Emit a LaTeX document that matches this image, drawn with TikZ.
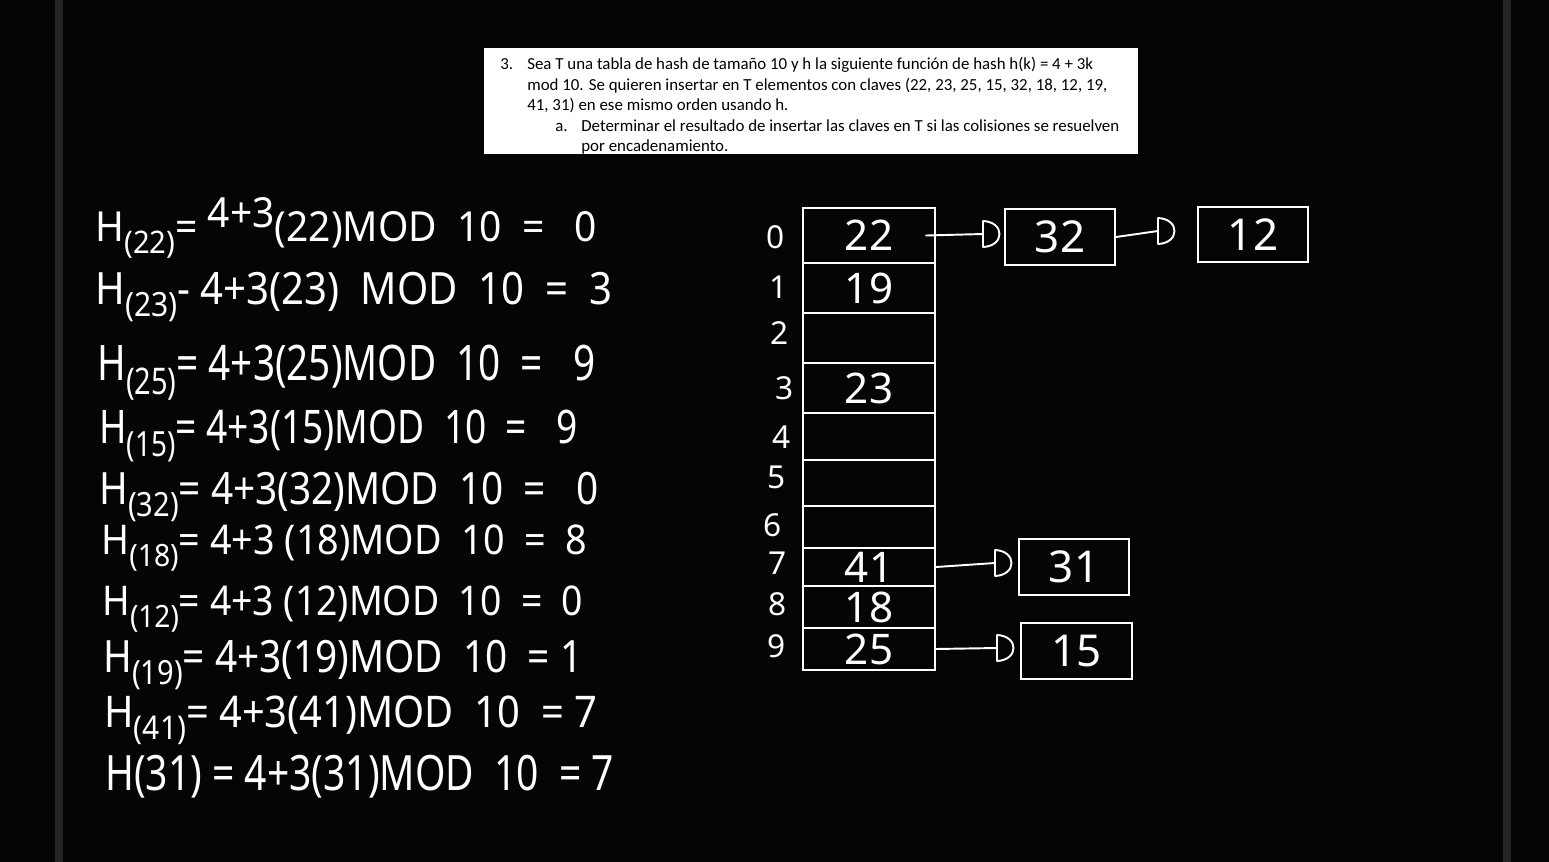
\documentclass[tikz,border=0pt]{standalone}
\usepackage{fontspec}
\usepackage{graphicx}
\setmainfont{Carlito}
\newfontfamily\hw{Noto Sans}
\newcommand\hsb[1]{\raisebox{-0.28em}{\fontsize{15pt}{18pt}\selectfont(#1)}}
\newcommand\handln[3]{\resizebox*{#1}{#2}{\hw\fontsize{20pt}{24pt}\selectfont #3}}
\definecolor{bgc}{HTML}{050505}
\definecolor{barc}{HTML}{252525}
\begin{document}
\begin{tikzpicture}[x=0.02cm,y=-0.02cm,
  txt/.style={inner sep=0pt, text=black, font=\fontsize{9.6pt}{11pt}\selectfont},
  hand/.style={inner sep=0pt, anchor=west, text=white},
  cell/.style={draw=white, line width=1.3pt, inner sep=0pt, minimum width=2.64cm, text=white, font=\hw\fontsize{24pt}{26pt}\selectfont},
  chainbox/.style={draw=white, line width=1.3pt, inner sep=0pt, minimum width=2.2cm, minimum height=1.12cm, text=white, font=\hw\fontsize{25pt}{27pt}\selectfont},
  idx/.style={inner sep=0pt, text=white, font=\hw\fontsize{18pt}{20pt}\selectfont},
  conn/.style={draw=white, line width=1.1pt, line cap=round},
  dhead/.pic={\draw[white, line width=1.1pt, line join=round, line cap=round] (0,-13) -- (0,13) (0,-13) .. controls (22,-12) and (22,12) .. (0,13);}
]
\useasboundingbox (0,0) rectangle (1549,862);
\fill[bgc] (0,0) rectangle (1549,862);
\fill[barc] (55,0) rectangle (63,862);
\fill[barc] (1503,0) rectangle (1511,862);

% printed question
\fill[white] (484,48) rectangle (1138,154);
\begin{scope}
\clip (484,48) rectangle (1138,154);
\node[txt, anchor=base west] (q3) at (500,70) {3.};
\node[txt, anchor=base west] (l1) at (527,70) {Sea T una tabla de hash de tamaño 10 y h la siguiente función de hash h(k) = 4 + 3k};
\node[txt, anchor=base west] (l2) at (527,90) {mod 10. Se quieren insertar en T elementos con claves (22, 23, 25, 15, 32, 18, 12, 19,};
\node[txt, anchor=base west] (l3) at (527,110) {41, 31) en ese mismo orden usando h.};
\node[txt, anchor=base west] (qa) at (555,131) {a.};
\node[txt, anchor=base west] (l4) at (581,131) {Determinar el resultado de insertar las claves en T si las colisiones se resuelven};
\node[txt, anchor=base west] (l5) at (581,151) {por encadenamiento.};
\end{scope}

% handwritten computations
\node[hand] (e1) at (95,228) {\handln{10.04cm}{1.22cm}{H\hsb{22}= \raisebox{0.35em}{4+3}(22)MOD\ \ 10\ \ =\ \ \ 0}};
\node[hand] (e2) at (95,297) {\handln{10.34cm}{1.0cm}{H\hsb{23}- 4+3(23)\ \ MOD\ \ 10\ \ =\ \ 3}};
\node[hand] (e3) at (97,373) {\handln{9.96cm}{1.1cm}{H\hsb{25}= 4+3(25)MOD\ \ 10\ \ =\ \ \ 9}};
\node[hand] (e4) at (99,436) {\handln{9.56cm}{1.04cm}{H\hsb{15}= 4+3(15)MOD\ \ 10\ \ =\ \ \ 9}};
\node[hand] (e5) at (99,497) {\handln{9.98cm}{1.0cm}{H\hsb{32}= 4+3(32)MOD\ \ 10\ \ =\ \ \ 0}};
\node[hand] (e6) at (101,548) {\handln{9.72cm}{0.92cm}{H\hsb{18}= 4+3 (18)MOD\ \ 10\ \ =\ \ 8}};
\node[hand] (e7) at (102,609) {\handln{9.62cm}{0.92cm}{H\hsb{12}= 4+3 (12)MOD\ \ 10\ \ =\ \ 0}};
\node[hand] (e8) at (103,665) {\handln{9.58cm}{1.0cm}{H\hsb{19}= 4+3(19)MOD\ \ 10\ \ =\ 1}};
\node[hand] (e9) at (104,720) {\handln{9.86cm}{0.98cm}{H\hsb{41}= 4+3(41)MOD\ \ 10\ \ =\ 7}};
\node[hand] (e10) at (105,777) {\handln{10.18cm}{0.86cm}{H(31) = 4+3(31)MOD\ \ 10\ \ =\ 7}};

% hash table
\node[cell, minimum height=1.10cm] (c0) at (869,235.5) {22};
\node[cell, minimum height=1.00cm] (c1) at (869,288) {19};
\node[cell, minimum height=1.00cm] (c2) at (869,338) {};
\node[cell, minimum height=1.00cm] (c3) at (869,388) {23};
\node[cell, minimum height=0.94cm] (c4) at (869,436.5) {};
\node[cell, minimum height=0.92cm] (c5) at (869,483) {};
\node[cell, minimum height=0.84cm] (c6) at (869,527) {};
\node[cell, minimum height=0.76cm] (c7) at (869,567) {41};
\node[cell, minimum height=0.84cm] (c8) at (869,607) {18};
\node[cell, minimum height=0.84cm] (c9) at (869,649) {25};

% indices
\node[idx] (i0) at (776,237) {0};
\node[idx] (i1) at (779,287) {1};
\node[idx] (i2) at (780,333) {2};
\node[idx] (i3) at (785,388) {3};
\node[idx] (i4) at (782,437) {4};
\node[idx] (i5) at (777,477) {5};
\node[idx] (i6) at (773,525) {6};
\node[idx] (i7) at (778,563) {7};
\node[idx] (i8) at (778,604) {8};
\node[idx] (i9) at (777,646) {9};

% chained boxes
\node[chainbox] (b32) at (1060,237) {32};
\node[chainbox, minimum height=1.10cm] (b12) at (1253,234.5) {12};
\node[chainbox] (b31) at (1074,567) {31};
\node[chainbox, minimum width=2.22cm] (b15) at (1076.5,651) {15};

% connectors
\coordinate (d0) at (983,234);
\coordinate (d1) at (1158,231);
\coordinate (d7) at (995,563);
\coordinate (d9) at (997,648);
\draw[conn] ([xshift=-0.2cm]c0.east) -- (d0);
\pic at (d0) {dhead};
\draw[conn] (b32.east) -- (d1);
\pic at (d1) {dhead};
\draw[conn] (c7.east) -- (d7);
\pic at (d7) {dhead};
\draw[conn] (c9.east) -- (d9);
\pic at (d9) {dhead};
\end{tikzpicture}
\end{document}
